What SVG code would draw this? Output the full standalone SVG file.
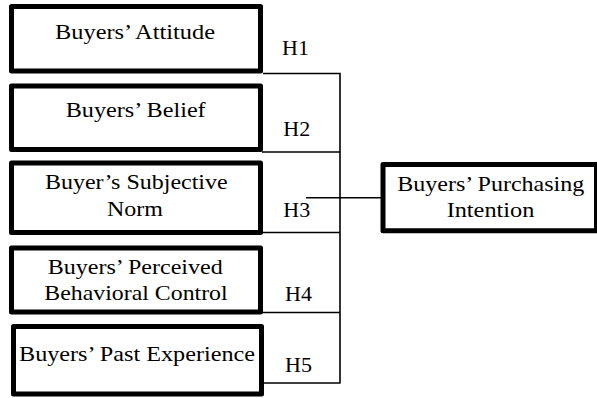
<svg xmlns="http://www.w3.org/2000/svg" width="597" height="398" viewBox="0 0 597 398">
<style>
.box{fill:#fff;stroke:#000;stroke-width:5;stroke-linejoin:round}
.lbl{font-size:22px;fill:#000;text-anchor:middle}
.h{font-size:22px;fill:#000}
.con{stroke:#000;stroke-width:1.6;fill:none}
</style>
<rect width="597" height="398" fill="#fff"/>
<g id="connectors">
<path class="con" d="M263 73.5H340M340 72.7V383.5M262 152H340M262 232.5H340M262 312.5H340M264 383H340M306 197.7H381"/>
</g>
<g font-family="'Liberation Serif', 'Times New Roman', Times, serif">
<g id="attitude">
<rect class="box" x="11.5" y="6.5" width="249" height="64.5"/>
<text class="lbl" x="135" y="39.3" textLength="160" lengthAdjust="spacingAndGlyphs">Buyers’ Attitude</text>
</g>
<g id="belief">
<rect class="box" x="11.5" y="86" width="249" height="63.5"/>
<text class="lbl" x="135.7" y="116.7" textLength="140" lengthAdjust="spacingAndGlyphs">Buyers’ Belief</text>
</g>
<g id="norm">
<rect class="box" x="11.5" y="163" width="249" height="69.5"/>
<text class="lbl" x="136.3" y="189.3" textLength="182.7" lengthAdjust="spacingAndGlyphs">Buyer’s Subjective</text>
<text class="lbl" x="135" y="216" textLength="56" lengthAdjust="spacingAndGlyphs">Norm</text>
</g>
<g id="control">
<rect class="box" x="11.5" y="248" width="249" height="64"/>
<text class="lbl" x="135.2" y="274" textLength="175" lengthAdjust="spacingAndGlyphs">Buyers’ Perceived</text>
<text class="lbl" x="136" y="300" textLength="183.3" lengthAdjust="spacingAndGlyphs">Behavioral Control</text>
</g>
<g id="experience">
<rect class="box" x="13.5" y="326.5" width="248" height="67.5"/>
<text class="lbl" x="137" y="360.7" textLength="236" lengthAdjust="spacingAndGlyphs">Buyers’ Past Experience</text>
</g>
<g id="intention">
<rect class="box" x="383" y="164.5" width="213.5" height="66.3"/>
<text class="lbl" x="490.8" y="190.7" textLength="187" lengthAdjust="spacingAndGlyphs">Buyers’ Purchasing</text>
<text class="lbl" x="490.5" y="217.3" textLength="87.7" lengthAdjust="spacingAndGlyphs">Intention</text>
</g>
<g id="hypotheses">
<text class="h" x="282" y="55">H1</text>
<text class="h" x="283.3" y="136">H2</text>
<text class="h" x="283.3" y="216.7">H3</text>
<text class="h" x="285" y="301">H4</text>
<text class="h" x="285" y="371.7">H5</text>
</g>
</g>
</svg>
